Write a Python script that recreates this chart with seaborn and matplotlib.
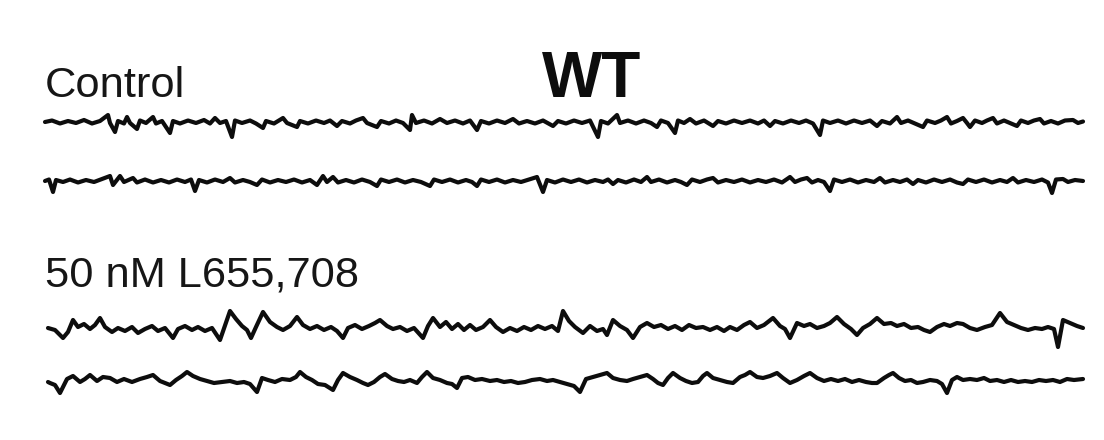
import matplotlib
matplotlib.use("Agg")
import matplotlib.pyplot as plt
import pandas as pd
import seaborn as sns

# Whole-cell current sweeps, (time in ms, current in pA), upward = positive
control_sweep1 = [
    (0, 0), (14, 3), (30, -3), (46, 2), (62, -2), (78, 4), (94, -3), (110, 2),
    (126, 14), (130, -2), (140, -20), (146, 2), (158, -3), (164, 10), (170, -2),
    (184, -14), (190, 3), (202, -2), (216, 10), (222, -3), (234, 2), (250, -22),
    (256, 2), (270, -3), (286, 3), (302, -2), (318, 4), (330, -3), (340, 8),
    (350, -2), (362, 2), (374, -30), (380, 3), (394, -2), (410, 3), (422, -3),
    (436, -12), (442, 2), (458, -3), (476, 8), (484, -2), (504, -10), (510, 2),
    (526, -3), (542, 3), (558, -2), (570, 3), (584, -8), (594, 2), (610, -3),
    (622, 3), (636, 8), (644, -2), (664, -10), (672, 2), (688, -3), (702, 3),
    (716, -2), (730, -16), (734, 14), (742, -2), (758, 3), (774, -3), (790, 6),
    (804, -2), (820, 3), (836, -3), (850, 3), (864, -16), (872, 2), (888, -3),
    (904, 3), (920, -2), (936, 6), (948, -3), (964, 2), (980, -3), (996, 3),
    (1016, -8), (1026, 2), (1042, -3), (1058, 3), (1074, -2), (1090, 3),
    (1106, -30), (1112, 2), (1126, -3), (1144, 14), (1150, -2), (1166, 3),
    (1182, -3), (1198, 3), (1212, -2), (1224, -10), (1232, 3), (1246, -2),
    (1260, -22), (1266, 3), (1278, -2), (1290, 6), (1302, -3), (1318, 3),
    (1336, -8), (1346, 2), (1362, -3), (1378, 3), (1394, -2), (1410, 3),
    (1426, -3), (1438, 3), (1450, -8), (1460, 2), (1476, -3), (1492, 3),
    (1508, -2), (1522, 3), (1536, -3), (1550, -26), (1556, 3), (1570, -2),
    (1586, 3), (1602, -3), (1618, 3), (1634, -2), (1650, 3), (1664, -8),
    (1674, 2), (1690, -3), (1704, 10), (1712, -2), (1726, 3), (1740, -3),
    (1756, -10), (1764, 3), (1780, -2), (1792, 3), (1804, 10), (1812, -3),
    (1824, 2), (1836, 8), (1844, -2), (1850, -10), (1860, 3), (1874, -2),
    (1884, 3), (1896, 8), (1904, -3), (1918, 3), (1930, -2), (1944, -8),
    (1952, 3), (1966, -2), (1978, 3), (1990, 6), (1998, -3), (2012, 2),
    (2026, -3), (2040, 3), (2056, 4), (2066, -2), (2076, 1),
]

control_sweep2 = [
    (0, 0), (8, 3), (16, -22), (22, 2), (36, -2), (50, 3), (66, -3), (82, 2),
    (98, -2), (114, 4), (130, 10), (136, -8), (150, 10), (158, -2), (176, 6),
    (184, -3), (200, 3), (216, -3), (232, 2), (248, -3), (264, 3), (280, -2),
    (292, 3), (300, -20), (308, 2), (324, -3), (340, 3), (356, -2), (370, 6),
    (380, -3), (396, 2), (410, -2), (424, -8), (434, 3), (450, -3), (466, 2),
    (482, -2), (498, 3), (514, -3), (530, 2), (544, -8), (556, 10), (564, -2),
    (576, 8), (586, -3), (602, 2), (618, -3), (634, 3), (650, -2), (664, -10),
    (672, 3), (688, -2), (704, 3), (720, -3), (736, 2), (752, -2), (770, -10),
    (778, 3), (794, -2), (810, 3), (826, -3), (842, 2), (854, -2), (864, -10),
    (872, 3), (888, -2), (904, 3), (920, -3), (936, 2), (952, -2), (968, 3),
    (984, 8), (996, -22), (1004, 2), (1020, -3), (1036, 3), (1052, -2),
    (1068, 3), (1084, -3), (1100, 2), (1116, -2), (1126, 3), (1136, -6),
    (1146, 2), (1162, -3), (1178, 3), (1192, -2), (1204, 8), (1212, -2),
    (1228, 3), (1244, -3), (1260, 2), (1272, -2), (1284, -8), (1294, 3),
    (1310, -2), (1324, 3), (1336, 6), (1346, -3), (1362, 2), (1378, -2),
    (1394, 3), (1410, -3), (1426, 2), (1442, -2), (1458, 3), (1474, -3),
    (1490, 8), (1500, -2), (1512, 3), (1524, 6), (1534, -3), (1546, 2),
    (1558, -2), (1570, -20), (1578, 3), (1594, -2), (1610, 3), (1626, -3),
    (1642, 2), (1658, -2), (1670, 6), (1680, -3), (1696, 2), (1710, -2),
    (1724, 3), (1736, -6), (1746, 2), (1762, -3), (1778, 3), (1794, -2),
    (1810, 3), (1824, -3), (1836, -6), (1846, 3), (1862, -2), (1878, 3),
    (1894, -3), (1910, 2), (1924, -2), (1936, 6), (1946, -3), (1962, 2),
    (1978, -2), (1994, 3), (2006, -3), (2014, -24), (2022, 3), (2036, 4),
    (2046, -2), (2060, 2), (2076, 0),
]

drug_sweep1 = [
    (6, 4), (20, 0), (36, -16), (46, -4), (56, 20), (66, 6), (78, 12), (90, 2),
    (100, 10), (110, 24), (120, 6), (134, -4), (146, 4), (160, -2), (174, 6),
    (186, -6), (200, 2), (214, 8), (226, -2), (240, 4), (256, -16), (266, 2),
    (280, 8), (294, 0), (306, 6), (320, -2), (334, 4), (350, -20), (370, 38),
    (382, 22), (394, 8), (404, 0), (412, -16), (422, 6), (436, 36), (450, 16),
    (464, 6), (476, 0), (490, 8), (504, 26), (516, 10), (530, 2), (544, 8),
    (558, 0), (572, 6), (584, -2), (596, -16), (606, 4), (620, 10), (634, 2),
    (648, 8), (660, 14), (670, 20), (684, 8), (696, 2), (710, 6), (724, -2),
    (738, 4), (756, -16), (766, 8), (776, 24), (790, 6), (802, 16), (814, 2),
    (826, 12), (838, 0), (850, 10), (862, 0), (876, 6), (890, 20), (902, 6),
    (916, -4), (930, 4), (944, -2), (958, 6), (972, 0), (986, 8), (1000, 2),
    (1014, 8), (1026, -2), (1036, 38), (1048, 18), (1060, 6), (1076, -6),
    (1090, 8), (1104, -2), (1116, 2), (1124, -10), (1136, 20), (1150, 8),
    (1164, 0), (1176, -16), (1190, 6), (1204, 14), (1218, 6), (1232, 10),
    (1246, 2), (1260, 8), (1274, 0), (1288, 10), (1302, 4), (1316, 6),
    (1330, 0), (1344, 6), (1358, -2), (1370, 6), (1384, 0), (1398, 10),
    (1410, 16), (1424, 4), (1438, 10), (1456, 24), (1470, 8), (1480, 2),
    (1490, -16), (1504, 14), (1518, 8), (1530, 12), (1544, 4), (1558, 8),
    (1570, 14), (1584, 26), (1598, 12), (1612, 2), (1624, -10), (1636, 4),
    (1650, 12), (1664, 24), (1678, 12), (1692, 14), (1704, 8), (1718, 12),
    (1732, 4), (1746, 6), (1758, 0), (1770, -4), (1784, 6), (1798, 12),
    (1810, 8), (1824, 14), (1836, 12), (1850, 4), (1864, 0), (1880, 6),
    (1894, 10), (1910, 34), (1924, 16), (1938, 10), (1952, 4), (1966, 0),
    (1980, 4), (1994, 2), (2006, 6), (2018, 2), (2026, -34), (2036, 20),
    (2050, 14), (2064, 8), (2076, 4),
]

drug_sweep2 = [
    (6, -2), (10, -4), (20, -8), (30, -24), (44, 4), (56, 10), (70, -2),
    (80, 4), (90, 12), (104, 0), (116, 8), (130, 6), (144, -2), (158, 4),
    (174, -2), (190, 4), (204, 8), (216, 12), (230, 0), (240, -4), (250, -8),
    (262, 2), (274, 10), (284, 18), (296, 10), (310, 4), (324, 0), (338, -4),
    (354, -2), (370, 0), (384, -4), (398, -2), (410, -6), (424, -22), (434, 6),
    (446, 2), (460, -2), (474, 4), (490, 2), (502, 8), (510, 18), (522, 8),
    (534, 2), (546, -6), (560, -8), (576, -18), (586, 2), (596, 16), (610, 8),
    (624, 2), (636, -4), (646, -8), (658, -2), (670, 8), (680, 14), (694, 4),
    (706, 0), (718, -2), (730, 2), (744, -4), (754, 8), (764, 18), (776, 6),
    (790, 2), (804, -4), (814, -6), (824, -14), (834, 6), (846, 8), (860, 2),
    (874, 4), (890, 0), (904, 2), (918, -2), (932, 0), (946, -4), (960, -2),
    (974, 2), (990, 4), (1004, 0), (1016, 2), (1030, -2), (1044, -6),
    (1058, -10), (1070, -22), (1082, 4), (1096, 8), (1110, 12), (1124, 16),
    (1136, 6), (1150, 2), (1164, 0), (1176, 4), (1190, 8), (1204, 12),
    (1216, 4), (1226, -4), (1236, -8), (1246, 6), (1256, 16), (1270, 6),
    (1282, 0), (1294, -4), (1306, -2), (1316, 10), (1324, 16), (1336, 6),
    (1350, 2), (1364, -2), (1376, -4), (1390, 8), (1400, 12), (1410, 18),
    (1424, 8), (1436, 6), (1450, 10), (1464, 16), (1476, 6), (1490, -4),
    (1504, 2), (1518, 10), (1530, 16), (1544, 6), (1558, 0), (1572, 4),
    (1586, 0), (1600, 4), (1614, -2), (1628, 2), (1642, -2), (1654, -4),
    (1664, -4), (1678, 6), (1688, 12), (1696, 16), (1708, 6), (1720, 0),
    (1732, 2), (1744, -4), (1756, -2), (1770, 2), (1784, 0), (1794, -6),
    (1804, -24), (1814, 2), (1824, 8), (1836, 2), (1850, 4), (1864, 2),
    (1878, 6), (1890, 0), (1904, 2), (1918, -2), (1932, 2), (1946, -2),
    (1960, 0), (1974, -2), (1988, 2), (2002, 0), (2016, 2), (2030, -2),
    (2044, 4), (2058, 2), (2076, 4),
]

condition_labels = ["Control", "50 nM L655,708"]
genotype_label = "WT"

# vertical stacking of the four sweeps (pA units of the shared axis)
sweep_offsets = {
    "control_1": -244,
    "control_2": -362,
    "drug_1": -660,
    "drug_2": -762,
}

sweeps = {
    "control_1": control_sweep1,
    "control_2": control_sweep2,
    "drug_1": drug_sweep1,
    "drug_2": drug_sweep2,
}

frames = []
for name, pts in sweeps.items():
    df = pd.DataFrame(pts, columns=["time_ms", "current_pA"])
    df["sweep"] = name
    df["trace"] = df["current_pA"] + sweep_offsets[name]
    frames.append(df)
data = pd.concat(frames, ignore_index=True)

sns.set_theme(style="white")
plt.rcParams["font.family"] = ["Liberation Sans", "DejaVu Sans"]

W, H = 1104, 440
fig = plt.figure(figsize=(W / 100, H / 100), dpi=100, facecolor="white")
ax = fig.add_axes([0, 0, 1, 1])

for name in sweeps:
    sns.lineplot(
        data=data[data["sweep"] == name],
        x="time_ms", y="trace",
        estimator=None, sort=False,
        color="#0d0d0d", linewidth=3.0,
        solid_joinstyle="round", solid_capstyle="round",
        ax=ax,
    )

ax.set_xlim(-90, 2118)
ax.set_ylim(-880, 0)
ax.set_axis_off()


def px(x, y):
    return x / W, 1 - y / H


fig.text(*px(45, 97), condition_labels[0], fontsize=31.2, color="#161616",
         ha="left", va="baseline")
fig.text(*px(45, 286), condition_labels[1], fontsize=31.2, color="#161616",
         ha="left", va="baseline")
fig.text(*px(592, 97), genotype_label, fontsize=46, fontweight="bold",
         color="#0d0d0d", ha="center", va="baseline")

fig.savefig("out.png", dpi=100, facecolor="white")
